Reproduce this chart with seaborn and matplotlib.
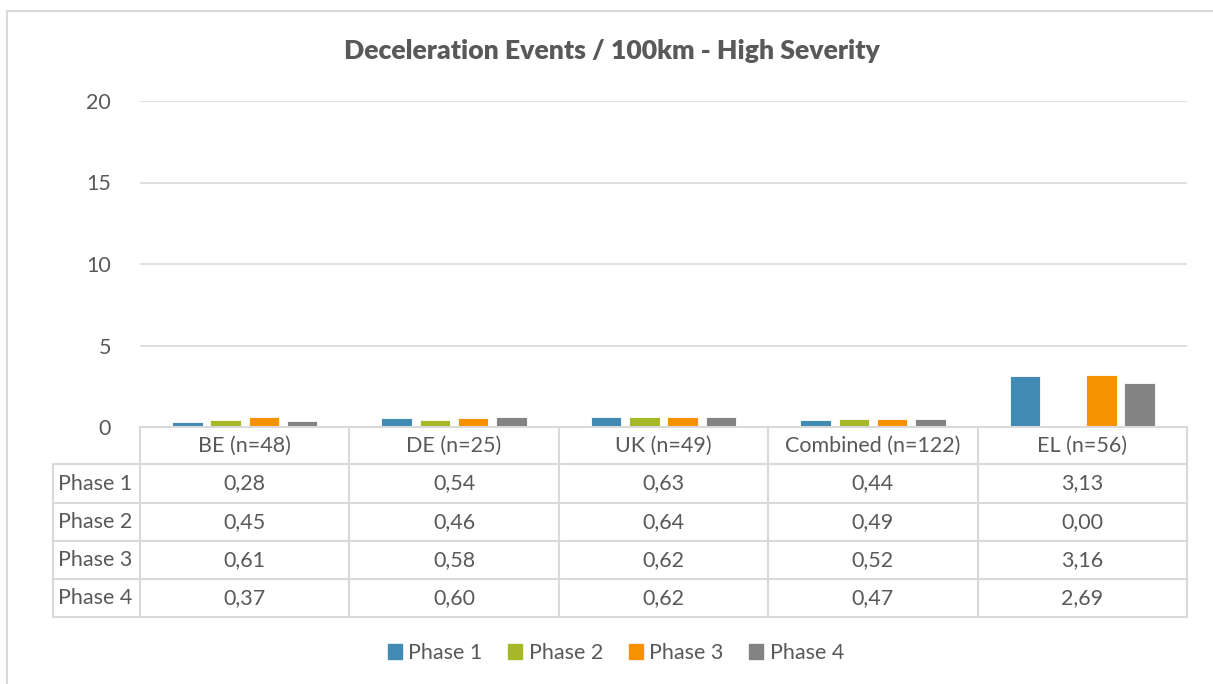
import matplotlib
matplotlib.use("Agg")
import matplotlib.pyplot as plt
from matplotlib.lines import Line2D
from matplotlib.patches import Rectangle
import seaborn as sns
import pandas as pd

# Data
categories = ["BE (n=48)", "DE (n=25)", "UK (n=49)", "Combined (n=122)", "EL (n=56)"]
phases = ["Phase 1", "Phase 2", "Phase 3", "Phase 4"]
phase1 = [0.28, 0.54, 0.63, 0.44, 3.13]
phase2 = [0.45, 0.46, 0.64, 0.49, 0.00]
phase3 = [0.61, 0.58, 0.62, 0.52, 3.16]
phase4 = [0.37, 0.60, 0.62, 0.47, 2.69]
yticks = [0, 5, 10, 15, 20]
title = "Deceleration Events / 100km - High Severity"

colors = ["#418AB3", "#A6B727", "#F69200", "#838383"]
series = [phase1, phase2, phase3, phase4]

df = pd.DataFrame(
    [(c, p, v) for p, vals in zip(phases, series) for c, v in zip(categories, vals)],
    columns=["category", "phase", "value"],
)

sns.set_theme(style="white")
plt.rcParams["font.family"] = ["Lato", "DejaVu Sans"]
TXT = "#595959"
GRID = "#D9D9D9"
FS = 15.5

W, H = 1213, 684
fig = plt.figure(figsize=(W / 100, H / 100), dpi=100)


def fx(px):
    return px / W


def fy(py):
    return 1 - py / H


# Plot area
left, right, top, bottom = 140, 1187, 101, 427
ax = fig.add_axes([fx(left), fy(bottom), fx(right) - fx(left), fy(top) - fy(bottom)])
sns.barplot(
    data=df, x="category", y="value", hue="phase", order=categories,
    hue_order=phases, palette=colors, saturation=1, width=0.73, gap=0.2, ax=ax,
    legend=False, edgecolor="white", linewidth=0.6,
)
ax.set_ylim(0, 20)
ax.set_xlim(-0.5, len(categories) - 0.5)
ax.set_yticks(yticks)
ax.set_yticklabels([str(t) for t in yticks], fontsize=FS, color=TXT)
ax.tick_params(axis="y", length=0, pad=21)
ax.set_xticks([])
ax.set_xlabel("")
ax.set_ylabel("")
for s in ax.spines.values():
    s.set_visible(False)
for t in yticks[1:]:
    ax.axhline(t, color=GRID, lw=1.2, zorder=0)

# Outer chart frame
fig.add_artist(Line2D([fx(7), fx(7)], [fy(11), 0], color=GRID, lw=1.5))
fig.add_artist(Line2D([fx(7), 1], [fy(11), fy(11)], color=GRID, lw=1.5))

# Title
fig.text(fx(612), fy(51), title, ha="center", va="center", fontsize=19.2,
         fontweight="heavy", color=TXT)

# Data table below the plot
col_edges = [left + i * (right - left) / len(categories) for i in range(len(categories) + 1)]
row_edges = [427, 464, 503, 541, 579, 617]
label_left = 53
lw_t = 1.5

# horizontal lines
fig.add_artist(Line2D([fx(left), fx(right)], [fy(row_edges[0])] * 2, color=GRID, lw=lw_t))
for ry in row_edges[1:]:
    fig.add_artist(Line2D([fx(label_left), fx(right)], [fy(ry)] * 2, color=GRID, lw=lw_t))
# vertical lines
for cx in col_edges:
    fig.add_artist(Line2D([fx(cx)] * 2, [fy(row_edges[0]), fy(row_edges[-1])], color=GRID, lw=lw_t))
fig.add_artist(Line2D([fx(label_left)] * 2, [fy(row_edges[1]), fy(row_edges[-1])], color=GRID, lw=lw_t))

# header
for i, c in enumerate(categories):
    cx = (col_edges[i] + col_edges[i + 1]) / 2
    cy = (row_edges[0] + row_edges[1]) / 2
    fig.text(fx(cx), fy(cy), c, ha="center", va="center", fontsize=FS, color=TXT)

# rows
for r, (p, vals) in enumerate(zip(phases, series)):
    cy = (row_edges[r + 1] + row_edges[r + 2]) / 2
    fig.text(fx(label_left + 5), fy(cy), p, ha="left", va="center", fontsize=FS, color=TXT)
    for i, v in enumerate(vals):
        cx = (col_edges[i] + col_edges[i + 1]) / 2
        fig.text(fx(cx), fy(cy), f"{v:.2f}".replace(".", ","), ha="center",
                 va="center", fontsize=FS, color=TXT)

# Legend
handles = [Rectangle((0, 0), 1, 1, color=c) for c in colors]
fig.legend(handles, phases, loc="center", bbox_to_anchor=(fx(616), fy(653)),
           ncol=4, frameon=False, fontsize=FS, labelcolor=TXT,
           handlelength=0.65, handleheight=0.65, handletextpad=0.3,
           columnspacing=1.2)

fig.savefig("out.png", dpi=100)
